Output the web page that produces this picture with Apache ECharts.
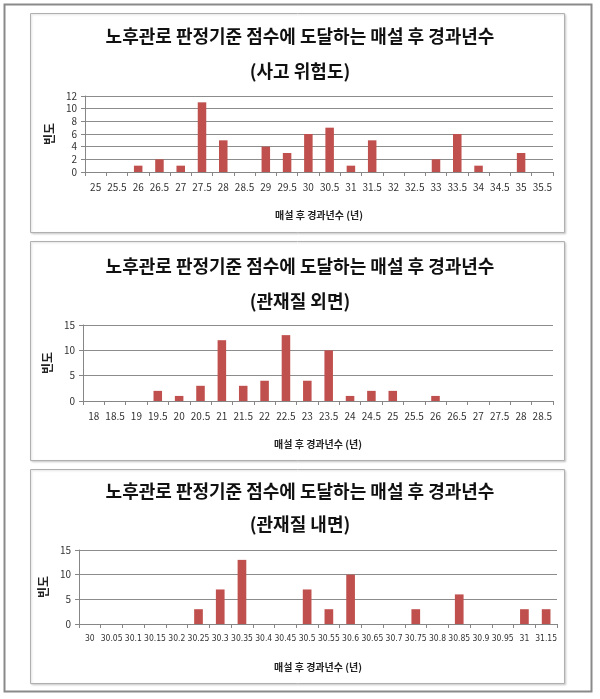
<!DOCTYPE html>
<html><head><meta charset="utf-8">
<script src="https://cdn.jsdelivr.net/npm/echarts@6/dist/echarts.min.js"></script>
<style>html,body{margin:0;padding:0;background:#fff}#c{width:600px;height:699px}</style>
</head><body><div id="c"></div>
<script>
const titleMain = '노후관로 판정기준 점수에 도달하는 매설 후 경과년수';
const subTitles = ['(사고 위험도)', '(관재질 외면)', '(관재질 내면)'];
const xAxisName = '매설 후 경과년수 (년)';
const yAxisName = '빈도';

const cats1 = ['25','25.5','26','26.5','27','27.5','28','28.5','29','29.5','30','30.5','31','31.5','32','32.5','33','33.5','34','34.5','35','35.5'];
const vals1 = [0,0,1,2,1,11,5,0,4,3,6,7,1,5,0,0,2,6,1,0,3,0];

const cats2 = ['18','18.5','19','19.5','20','20.5','21','21.5','22','22.5','23','23.5','24','24.5','25','25.5','26','26.5','27','27.5','28','28.5'];
const vals2 = [0,0,0,2,1,3,12,3,4,13,4,10,1,2,2,0,1,0,0,0,0,0];

const cats3 = ['30','30.05','30.1','30.15','30.2','30.25','30.3','30.35','30.4','30.45','30.5','30.55','30.6','30.65','30.7','30.75','30.8','30.85','30.9','30.95','31','31.15'];
const vals3 = [0,0,0,0,0,3,7,13,0,0,7,3,10,0,0,3,0,6,0,0,3,3];

const yMax = [12, 15, 15];
const yInt = [2, 5, 5];

const FONT = '"Noto Sans CJK KR", "Noto Sans", sans-serif';
const NARROW = '"DejaVu Sans Condensed", "DejaVu Sans", sans-serif';
const chart = echarts.init(document.getElementById('c'), null, {renderer:'canvas'});

const panels = [
  {top:13, bottom:232, t1:35, t2:70, grid:{left:85, right:47, top:96, height:76}, lf:FONT, ls:10, st:'normal'},
  {top:241, bottom:460, t1:265, t2:300, grid:{left:83, right:47, top:325, height:76}, lf:FONT, ls:10, st:'normal'},
  {top:469, bottom:683, t1:490, t2:523, grid:{left:79, right:43, top:550, height:74}, lf:NARROW, ls:8.5, st:'condensed'}
];
const cats = [cats1, cats2, cats3];
const vals = [vals1, vals2, vals3];

const titles = [], grids = [], xAxes = [], yAxes = [], series = [], graphics = [];
graphics.push({type:'rect', shape:{x:4.5, y:4.5, width:587, height:687}, style:{fill:'none', stroke:'#8a8a8a', lineWidth:2}});
panels.forEach((p, i) => {
  graphics.push({type:'rect', shape:{x:30.5, y:p.top+0.5, width:534, height:p.bottom-p.top}, style:{fill:'#fff', stroke:'#b0b0b0', lineWidth:1, shadowColor:'rgba(0,0,0,0.15)', shadowBlur:2, shadowOffsetX:1, shadowOffsetY:1}});
  titles.push({text:titleMain, left:'center', top:p.t1 - 13, textStyle:{fontFamily:FONT, fontSize:18, fontWeight:'bold', color:'#111'}});
  titles.push({text:subTitles[i], left:'center', top:p.t2 - 13, textStyle:{fontFamily:FONT, fontSize:18, fontWeight:'bold', color:'#111'}});
  grids.push(Object.assign({containLabel:false}, p.grid));
  xAxes.push({
    type:'category', gridIndex:i, data:cats[i], boundaryGap:true,
    axisLine:{lineStyle:{color:'#868686', width:1}},
    axisTick:{show:true, alignWithLabel:false, length:4, lineStyle:{color:'#868686'}},
    axisLabel:{interval:0, fontFamily:p.lf, fontSize:p.ls, fontStyle:p.st, color:'#333', margin:10},
    name:xAxisName, nameLocation:'middle', nameGap:38,
    nameTextStyle:{fontFamily:FONT, fontSize:10, fontWeight:'bold', color:'#222'}
  });
  yAxes.push({
    type:'value', gridIndex:i, min:0, max:yMax[i], interval:yInt[i],
    axisLine:{show:true, lineStyle:{color:'#868686'}},
    axisTick:{show:true, length:4, lineStyle:{color:'#868686'}},
    axisLabel:{fontFamily:FONT, fontSize:10, color:'#333', margin:8},
    splitLine:{lineStyle:{color:'#8c8c8c', width:1}},
    name:yAxisName, nameLocation:'middle', nameRotate:90, nameGap:30,
    nameTextStyle:{fontFamily:FONT, fontSize:12, fontWeight:'bold', color:'#222'}
  });
  series.push({type:'bar', xAxisIndex:i, yAxisIndex:i, data:vals[i], barWidth:'40%',
    itemStyle:{color:'#C0504D'}, silent:true, animation:false});
});

chart.setOption({
  animation:false,
  backgroundColor:'#fff',
  graphic:{elements:graphics},
  title:titles, grid:grids, xAxis:xAxes, yAxis:yAxes, series:series
});
</script></body></html>
